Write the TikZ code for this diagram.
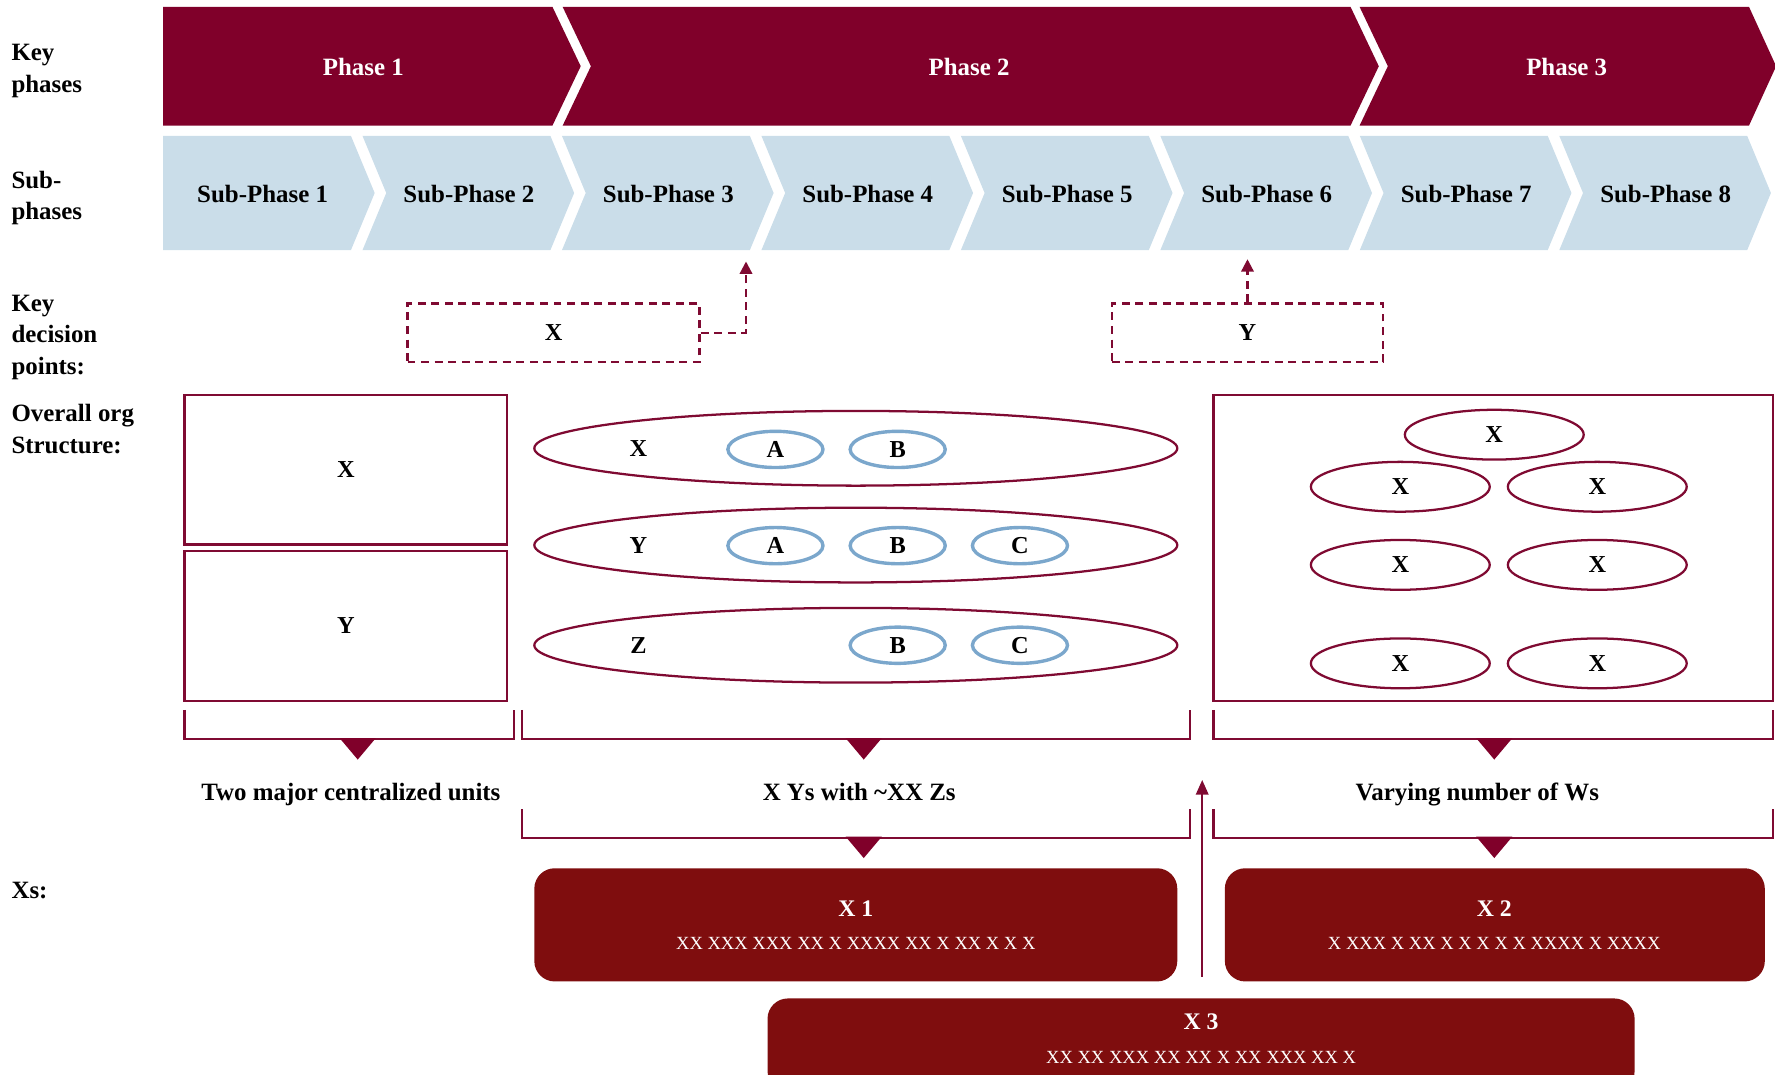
\documentclass[tikz,border=0pt]{standalone}
\usepackage{fontspec}
\setmainfont{Liberation Serif}
\usetikzlibrary{arrows.meta,shapes.geometric}
\definecolor{phasered}{HTML}{80002A}
\definecolor{subblue}{HTML}{CADDE9}
\definecolor{linered}{HTML}{7F0A32}
\definecolor{boxred}{HTML}{7F0D0E}
\definecolor{ovalblue}{HTML}{7BA7CC}
\tikzset{
  f22/.style={font=\fontsize{22}{28}\selectfont\bfseries},
  f21/.style={font=\fontsize{21.5}{24}\selectfont\bfseries},
  rowlabel/.style={f22, align=left, anchor=west, inner sep=0pt},
  phasetext/.style={f22, text=white, inner sep=0pt},
  subtext/.style={f22, text=black, inner sep=0pt},
  sumtext/.style={f22, text=black, inner sep=0pt, anchor=base},
  decbox/.style={draw=linered, line width=2pt, dash pattern=on 7pt off 5pt, minimum height=52pt, inner sep=0pt, f21},
  dasharrow/.style={draw=linered, line width=2pt, dash pattern=on 7pt off 5pt, -{Triangle[length=11pt,width=11pt]}},
  solidarrow/.style={draw=linered, line width=2pt, -{Triangle[length=13pt,width=11pt]}},
  orgbox/.style={draw=linered, line width=2pt, rectangle, inner sep=0pt, f21},
  bigoval/.style={draw=linered, line width=2pt, ellipse, minimum width=568pt, minimum height=66pt, inner sep=0pt},
  smalloval/.style={draw=ovalblue, line width=3pt, ellipse, minimum width=84pt, minimum height=32pt, inner sep=0pt, f21},
  unitoval/.style={draw=linered, line width=2pt, ellipse, minimum width=158pt, minimum height=44pt, inner sep=0pt, f21},
  ovallabel/.style={f21, inner sep=0pt},
  bracket/.style={draw=linered, line width=2pt},
  pointer/.style={fill=phasered},
  xbox/.style={fill=boxred, rounded corners=18pt, inner sep=0pt},
  xtitle/.style={font=\fontsize{21}{24}\selectfont\bfseries, text=white, inner sep=0pt},
  xsub/.style={font=\fontsize{16.4}{18}\selectfont, text=white, inner sep=0pt},
}
\begin{document}
\begin{tikzpicture}[x=1pt,y=-1pt]
\path[use as bounding box] (0,0) rectangle (1568,949);
\clip (0,0) rectangle (1568,949);

% row labels
\node[rowlabel] (lkp) at (10,63) {Key\\phases};
\node[rowlabel] (lsp) at (10,175) {Sub-\\phases};
\node[rowlabel] (lkd) at (10,298) {Key\\decision\\points:};
\node[rowlabel] (los) at (10,379) {Overall org\\Structure:};
\node[rowlabel] (lxs) at (10,787) {Xs:};

% phases
\fill[phasered] (144,6) -- (488,6) -- (513,58.5) -- (488,111) -- (144,111) -- cycle;
\fill[phasered] (497,6) -- (1193,6) -- (1218,58.5) -- (1193,111) -- (497,111) -- (522,58.5) -- cycle;
\fill[phasered] (1201,6) -- (1545,6) -- (1569,58.5) -- (1545,111) -- (1201,111) -- (1226,58.5) -- cycle;
\node[phasetext] (p1) at (321,59) {Phase 1};
\node[phasetext] (p2) at (856,59) {Phase 2};
\node[phasetext] (p3) at (1384,59) {Phase 3};

% sub-phases
\foreach \i in {1,...,8}{
  \pgfmathsetmacro{\xo}{144+(\i-1)*176.2}
  \pgfmathsetmacro{\notch}{ifthenelse(\i==1,0,21)}
  \pgfmathsetmacro{\tx}{\xo+ifthenelse(\i==1,88,94)}
  \fill[subblue] (\xo,120) -- ++(166,0) -- ++(21,50.5) -- ++(-21,50.5) -- (\xo,221) -- ++(\notch,-50.5) -- cycle;
  \node[subtext] (s\i) at (\tx,171) {Sub-Phase \i};
}

% key decision points
\node[decbox, minimum width=258pt] (dx) at (489,294) {X};
\node[decbox, minimum width=240pt] (dy) at (1102,294) {Y};
\coordinate (ax) at (659,231);
\coordinate (ay) at (1102,229);
\draw[dasharrow] (dx.east) -| (ax);
\draw[dasharrow] (dy.north) -- (ay);

% overall org structure: left boxes
\node[orgbox, minimum width=285pt, minimum height=132pt] (ox) at (305.5,415) {X};
\node[orgbox, minimum width=285pt, minimum height=132pt] (oy) at (305.5,553) {Y};

% middle ovals
\node[bigoval] (e1) at (756,396) {};
\node[bigoval] (e2) at (756,481.5) {};
\node[bigoval] (e3) at (756,570) {};
\node[ovallabel] (e1l) at (564,396) {X};
\node[ovallabel] (e2l) at (564,481.5) {Y};
\node[ovallabel] (e3l) at (564,570) {Z};
\node[smalloval] (a1) at (685,397) {A};
\node[smalloval] (b1) at (793,397) {B};
\node[smalloval] (a2) at (685,482) {A};
\node[smalloval] (b2) at (793,482) {B};
\node[smalloval] (c2) at (901,482) {C};
\node[smalloval] (b3) at (793,570) {B};
\node[smalloval] (c3) at (901,570) {C};

% right box
\node[orgbox, minimum width=494pt, minimum height=270pt] (ow) at (1319,484) {};
\node[unitoval] (w0) at (1320,384) {X};
\node[unitoval] (w1) at (1237,430) {X};
\node[unitoval] (w2) at (1411,430) {X};
\node[unitoval] (w3) at (1237,499) {X};
\node[unitoval] (w4) at (1411,499) {X};
\node[unitoval] (w5) at (1237,586) {X};
\node[unitoval] (w6) at (1411,586) {X};

% first brackets
\draw[bracket] (163,627) -- (163,653) -- (454,653) -- (454,627);
\draw[bracket] (461,627) -- (461,653) -- (1051,653) -- (1051,627);
\draw[bracket] (1072,627) -- (1072,653) -- (1566,653) -- (1566,627);
\fill[pointer] (300,652) -- (332,652) -- (316,671) -- cycle;
\fill[pointer] (747,652) -- (779,652) -- (763,671) -- cycle;
\fill[pointer] (1304,652) -- (1336,652) -- (1320,671) -- cycle;

% summary texts
\node[sumtext] (t1) at (310,707) {Two major centralized units};
\node[sumtext] (t2) at (759,707) {X Ys with \textasciitilde XX Zs};
\node[sumtext] (t3) at (1305,707) {Varying number of Ws};

% second brackets
\draw[bracket] (461,715) -- (461,740) -- (1051,740) -- (1051,715);
\draw[bracket] (1072,715) -- (1072,740) -- (1566,740) -- (1566,715);
\fill[pointer] (747,739) -- (779,739) -- (763,758) -- cycle;
\fill[pointer] (1304,739) -- (1336,739) -- (1320,758) -- cycle;

% upward arrow
\coordinate (ub) at (1062,863);
\coordinate (ut) at (1062,689);
\draw[solidarrow] (ub) -- (ut);

% Xs boxes
\node[xbox, minimum width=568pt, minimum height=100pt] (x1) at (756,817) {};
\node[xbox, minimum width=477pt, minimum height=100pt] (x2) at (1320.5,817) {};
\node[xbox, minimum width=766pt, minimum height=82pt] (x3) at (1061,923) {};
\node[xtitle] (x1t) at (756,803) {X 1};
\node[xsub] (x1s) at (756,833) {XX XXX XXX XX X XXXX XX X XX X X X};
\node[xtitle] (x2t) at (1320,803) {X 2};
\node[xsub] (x2s) at (1320,833) {X XXX X XX X X X X X XXXX X XXXX};
\node[xtitle] (x3t) at (1061,903) {X 3};
\node[xsub] (x3s) at (1061,934) {XX XX XXX XX XX X XX XXX XX X};
\end{tikzpicture}
\end{document}
